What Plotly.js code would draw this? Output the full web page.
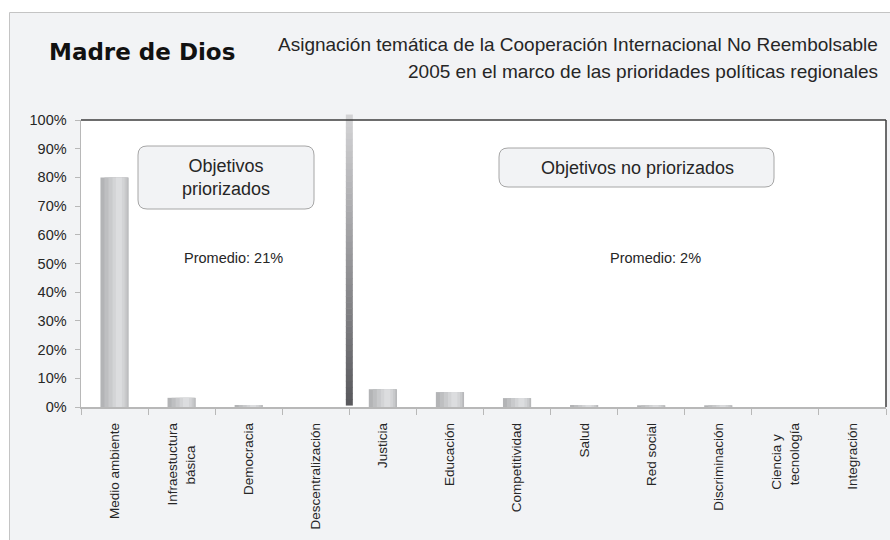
<!DOCTYPE html>
<html>
<head>
<meta charset="utf-8">
<script src="https://cdn.plot.ly/plotly-3.0.1.min.js"></script>
<style>
  html, body { margin: 0; padding: 0; background: #ffffff; }
  #chart { width: 890px; height: 540px; }
</style>
</head>
<body>
<div id="chart"></div>
<script>
// ---- Data ----
const categories = ['Medio ambiente', 'Infraestuctura básica', 'Democracia', 'Descentralización',
  'Justicia', 'Educación', 'Competitividad', 'Salud', 'Red social', 'Discriminación',
  'Ciencia y tecnología', 'Integración'];
const tickLabels = ['Medio ambiente', 'Infraestuctura<br>básica\u00a0\u00a0\u00a0\u00a0\u00a0\u00a0', 'Democracia',
  'Descentralización', 'Justicia', 'Educación', 'Competitividad', 'Salud', 'Red social',
  'Discriminación', 'Ciencia y\u00a0\u00a0\u00a0<br>tecnología', 'Integración'];
const shares = [0.80, 0.032, 0.007, 0, 0.062, 0.052, 0.031, 0.007, 0.006, 0.006, 0, 0];
const groupLabels = ['Objetivos<br>priorizados', 'Objetivos no priorizados'];
const groupAverages = ['Promedio: 21%', 'Promedio: 2%'];
const titleText = 'Madre de Dios';
const subtitleLines = ['Asignación temática de la Cooperación Internacional No Reembolsable',
  '2005 en el marco de las prioridades políticas regionales'];

// ---- Geometry ----
const W = 890, H = 540, L = 81, R = 4, T = 120, B = 133;
const pw = W - L - R, ph = H - T - B;
const px2x = p => (p - L) / pw;
const py2y = p => (H - B - p) / ph;

const shapes = [];
// outer grey panel
shapes.push({type: 'rect', xref: 'paper', yref: 'paper', layer: 'below',
  x0: px2x(9.5), x1: px2x(910), y0: py2y(12.5), y1: py2y(600),
  fillcolor: '#f2f3f5', line: {color: '#c4c4c4', width: 1}});
// white plot area
shapes.push({type: 'rect', xref: 'paper', yref: 'paper', layer: 'below',
  x0: 0, x1: 1, y0: 0, y1: 1, fillcolor: '#ffffff', line: {width: 0}});

// rounded boxes
function roundBox(x0p, y0p, x1p, y1p, r) {
  const X = px2x, Y = py2y;
  const p = `M ${X(x0p + r)},${Y(y0p)} L ${X(x1p - r)},${Y(y0p)} Q ${X(x1p)},${Y(y0p)} ${X(x1p)},${Y(y0p + r)} ` +
    `L ${X(x1p)},${Y(y1p - r)} Q ${X(x1p)},${Y(y1p)} ${X(x1p - r)},${Y(y1p)} ` +
    `L ${X(x0p + r)},${Y(y1p)} Q ${X(x0p)},${Y(y1p)} ${X(x0p)},${Y(y1p - r)} ` +
    `L ${X(x0p)},${Y(y0p + r)} Q ${X(x0p)},${Y(y0p)} ${X(x0p + r)},${Y(y0p)} Z`;
  return {type: 'path', xref: 'paper', yref: 'paper', layer: 'above', path: p,
    fillcolor: '#f2f3f5', line: {color: '#a6a6a6', width: 1}};
}
shapes.push(roundBox(138, 146, 314, 209, 9));
shapes.push(roundBox(499, 148, 774, 187, 9));

// separator bar with vertical gradient, between the 4th and 5th categories
const sepCenter = 4 / categories.length;
const sepHalf = 3.5 / pw;
const nSeg = 48, sepBottom = 0.005, sepTop = 1.017;
const cTop = [212, 212, 214], cBot = [88, 88, 92];
for (let i = 0; i < nSeg; i++) {
  const t = (i + 0.5) / nSeg;
  const c = cBot.map((b, k) => Math.round(b + (cTop[k] - b) * t));
  shapes.push({type: 'rect', xref: 'paper', yref: 'paper', layer: 'above',
    x0: sepCenter - sepHalf, x1: sepCenter + sepHalf,
    y0: sepBottom + (sepTop - sepBottom) * i / nSeg,
    y1: sepBottom + (sepTop - sepBottom) * (i + 1) / nSeg + 0.002,
    fillcolor: `rgb(${c[0]},${c[1]},${c[2]})`, line: {width: 0}});
}
// dark top and right frame
shapes.push({type: 'line', xref: 'paper', yref: 'paper', x0: 0, x1: 1, y0: 1, y1: 1,
  line: {color: '#3c3c3c', width: 1.5}});
shapes.push({type: 'line', xref: 'paper', yref: 'paper', x0: 1, x1: 1, y0: 0, y1: 1,
  line: {color: '#3c3c3c', width: 1.5}});

const baseFont = 'Liberation Sans, Arial, sans-serif';
const annotations = [
  {text: titleText, xref: 'paper', yref: 'paper', x: px2x(141.5), y: py2y(52),
   xanchor: 'center', yanchor: 'middle', showarrow: false,
   font: {family: 'DejaVu Sans', size: 23, color: '#111111', weight: 'bold'}},
  {text: subtitleLines[0], xref: 'paper', yref: 'paper', x: px2x(880), y: py2y(45),
   xanchor: 'right', yanchor: 'middle', showarrow: false,
   font: {family: baseFont, size: 19, color: '#262626'}},
  {text: subtitleLines[1], xref: 'paper', yref: 'paper', x: px2x(880), y: py2y(71),
   xanchor: 'right', yanchor: 'middle', showarrow: false,
   font: {family: baseFont, size: 19, color: '#262626'}},
  {text: groupLabels[0], xref: 'paper', yref: 'paper', x: px2x(226), y: py2y(177.5),
   xanchor: 'center', yanchor: 'middle', showarrow: false,
   font: {family: baseFont, size: 18, color: '#262626'}},
  {text: groupLabels[1], xref: 'paper', yref: 'paper', x: px2x(637), y: py2y(167.5),
   xanchor: 'center', yanchor: 'middle', showarrow: false,
   font: {family: baseFont, size: 18, color: '#262626'}},
  {text: groupAverages[0], xref: 'paper', yref: 'paper', x: px2x(233), y: py2y(258),
   xanchor: 'center', yanchor: 'middle', showarrow: false,
   font: {family: baseFont, size: 14.5, color: '#262626'}},
  {text: groupAverages[1], xref: 'paper', yref: 'paper', x: px2x(655.5), y: py2y(258),
   xanchor: 'center', yanchor: 'middle', showarrow: false,
   font: {family: baseFont, size: 14.5, color: '#262626'}}
];

// bars drawn as overlaid layers to imitate the horizontal grey gradient
const layers = [
  {off: -0.21, w: 0.42, color: '#b3b4b6'},
  {off: -0.15, w: 0.35, color: '#bebfc1'},
  {off: -0.09, w: 0.27, color: '#c9cacc'},
  {off: -0.03, w: 0.18, color: '#d3d4d6'},
  {off: 0.02, w: 0.09, color: '#dcdddf'}
];
const traces = layers.map(ly => ({
  type: 'bar', x: categories, y: shares,
  offset: ly.off, width: ly.w,
  marker: {color: ly.color, line: {width: 0}},
  hoverinfo: 'x+y'
}));

const layout = {
  width: W, height: H,
  margin: {l: L, r: R, t: T, b: B, pad: 0},
  paper_bgcolor: '#ffffff',
  plot_bgcolor: 'rgba(0,0,0,0)',
  showlegend: false,
  barmode: 'overlay',
  font: {family: baseFont, color: '#333333'},
  xaxis: {
    type: 'category', range: [-0.5, categories.length - 0.5],
    tickmode: 'array', tickvals: categories, ticktext: tickLabels,
    tickangle: -90, tickson: 'boundaries', ticks: 'outside', ticklen: 6,
    tickcolor: '#b8b8b8', tickwidth: 1, showline: true, linecolor: '#b8b8b8', linewidth: 1.5,
    showgrid: false, zeroline: false, ticklabelstandoff: 9,
    tickfont: {family: baseFont, size: 13.5, color: '#262626'}, fixedrange: true
  },
  yaxis: {
    range: [0, 1], dtick: 0.1, tick0: 0, tickformat: '.0%',
    ticks: 'outside', ticklen: 5, tickcolor: '#b8b8b8', showline: true,
    linecolor: '#b8b8b8', linewidth: 1.5, showgrid: false, zeroline: false,
    ticklabelstandoff: 5,
    tickfont: {family: baseFont, size: 14.5, color: '#262626'}, fixedrange: true
  },
  shapes: shapes,
  annotations: annotations
};

Plotly.newPlot('chart', traces, layout, {displayModeBar: false, staticPlot: true});
</script>
</body>
</html>
